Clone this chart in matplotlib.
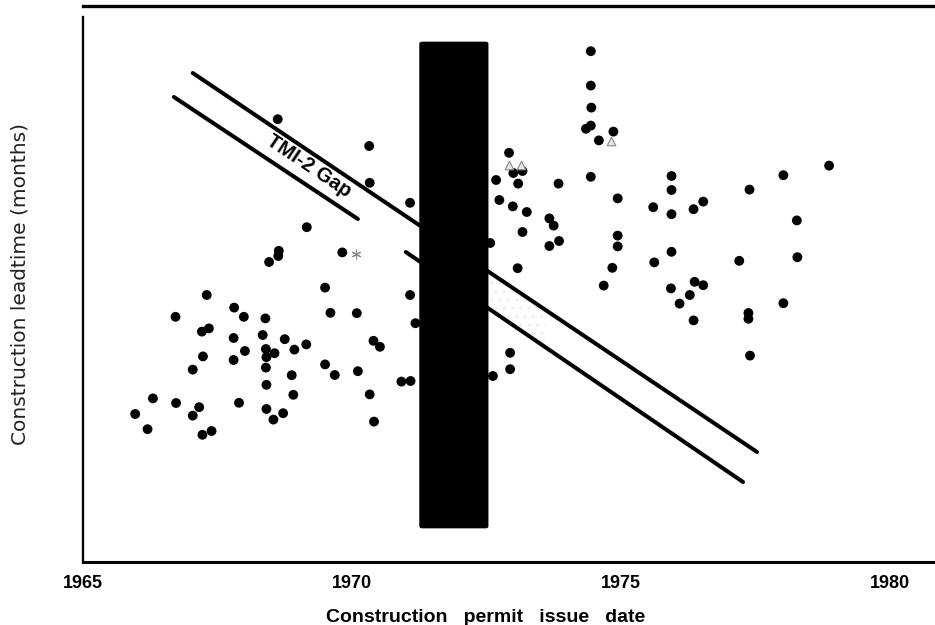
import matplotlib
matplotlib.use("Agg")
import matplotlib.pyplot as plt
from matplotlib.patches import FancyBboxPatch

# ---- data ----
permit_year = [
    1969.16, 1968.64, 1968.63, 1968.46, 1969.82, 1969.50, 1967.30, 1966.72, 1967.81, 1967.99,
    1968.39, 1969.60, 1970.09, 1967.21, 1967.34, 1967.80, 1968.34, 1968.75, 1969.15, 1970.40,
    1970.52, 1968.01, 1968.40, 1968.56, 1968.41, 1968.93, 1967.23, 1967.80, 1968.40, 1967.04,
    1969.50, 1969.68, 1970.11, 1968.88, 1968.41, 1970.92, 1971.09, 1968.91, 1970.33, 1966.30,
    1966.73, 1967.90, 1967.16, 1967.04, 1965.97, 1968.41, 1968.72, 1968.54, 1970.41, 1966.20,
    1967.22, 1967.39, 1968.62, 1970.32, 1970.33, 1971.08, 1971.08, 1971.18,
    1974.44, 1974.44, 1974.45, 1974.35, 1974.44, 1974.86, 1974.59, 1972.92, 1973.00, 1973.17,
    1974.44, 1972.68, 1973.09, 1973.84, 1975.94, 1975.94, 1974.94, 1972.74, 1972.99, 1973.25,
    1975.60, 1975.94, 1973.67, 1973.75, 1973.17, 1973.85, 1973.67, 1972.57, 1974.94, 1974.94,
    1975.94, 1975.62, 1973.08, 1974.84, 1974.68, 1975.93, 1976.09, 1977.39, 1978.02, 1978.87,
    1976.35, 1976.53, 1978.27, 1977.20, 1978.28, 1976.37, 1976.53, 1976.28, 1976.35, 1977.37,
    1977.37, 1978.02, 1977.40, 1972.94, 1972.94, 1972.62,
]
leadtime = [
    83.7, 77.8, 76.5, 75.0, 77.4, 68.6, 66.75, 61.3, 63.6, 61.3,
    60.9, 62.3, 62.2, 57.6, 58.4, 56.0, 56.75, 55.7, 54.4, 55.3,
    53.8, 52.75, 53.25, 52.2, 51.2, 53.1, 51.4, 50.5, 48.6, 48.1,
    49.4, 46.75, 47.7, 46.7, 44.3, 45.1, 45.25, 41.8, 41.9, 40.9,
    39.75, 39.8, 38.7, 36.6, 37.0, 38.25, 37.2, 35.6, 35.1, 33.2,
    31.8, 32.75, 110.7, 104.0, 94.8, 89.8, 66.75, 59.7,
    127.7, 119.1, 113.6, 108.3, 109.1, 107.6, 105.4, 102.3, 97.25, 97.75,
    96.3, 95.5, 94.6, 94.6, 96.5, 93.0, 90.9, 90.5, 88.9, 87.5,
    88.7, 86.95, 85.9, 84.1, 82.5, 80.25, 79.0, 79.75, 81.6, 78.9,
    77.55, 74.9, 73.45, 73.55, 69.1, 68.4, 64.6, 93.1, 96.7, 99.1,
    88.2, 90.1, 85.4, 75.3, 76.2, 70.05, 69.2, 66.75, 60.4, 62.25,
    60.8, 64.7, 51.6, 52.3, 48.2, 46.5,
]
# special (grey) symbols
tri_year = [1972.92, 1973.14, 1974.81]
tri_lead = [99.25, 99.25, 105.25]
star_year = [1970.07]
star_lead = [76.9]

# TMI-2 shaded band (black bar)
band_start, band_end = 1971.26, 1972.53
band_low, band_high = 8.5, 130.0

# gap lines
upper_x = [1967.04, 1977.53]
upper_y = [122.25, 27.5]
lower_xa = [1966.69, 1970.11]
lower_ya = [116.25, 85.75]
lower_xb = [1971.00, 1977.27]
lower_yb = [77.5, 20.0]

xticks = [1965, 1970, 1975, 1980]
xlim = (1965, 1980.82)
ylim = (0, 139)

# ---- figure ----
fig = plt.figure(figsize=(9.35, 6.25), dpi=100)
ax = fig.add_axes([83/935, 63/625, 851/935, 556/625])
ax.set_xlim(*xlim)
ax.set_ylim(*ylim)

lw = 2.9
ax.plot(upper_x, upper_y, color="black", lw=lw, solid_capstyle="round", zorder=2)
ax.plot(lower_xa, lower_ya, color="black", lw=lw, solid_capstyle="round", zorder=2)
ax.plot(lower_xb, lower_yb, color="black", lw=lw, solid_capstyle="round", zorder=2)

# very faint stipple between lines right of the bar
sx = [band_end, 1973.6]
def yline(xv, xs, ys):
    return ys[0] + (ys[1] - ys[0]) * (xv - xs[0]) / (xs[1] - xs[0])
ax.fill_between(sx, [yline(v, lower_xb, lower_yb) for v in sx],
                [yline(v, upper_x, upper_y) for v in sx],
                facecolor="none", edgecolor="#eeeeee", hatch="..", lw=0, zorder=1)

ax.scatter(permit_year, leadtime, s=50, color="black", edgecolors="none", zorder=3)
ax.scatter(tri_year, tri_lead, s=38, marker="^", facecolor="#e6e6e6",
           edgecolors="#888888", linewidths=0.8, zorder=4)
ax.scatter(star_year, star_lead, s=40, marker=(6, 2, 0), color="#888888",
           linewidths=0.8, zorder=4)

ax.add_patch(FancyBboxPatch((band_start, band_low), band_end - band_start,
                            band_high - band_low,
                            boxstyle="round,pad=0,rounding_size=0.05",
                            mutation_aspect=8,
                            facecolor="black", edgecolor="black", lw=0.5, zorder=5))

ax.text(1969.19, 98.9, "TMI-2 Gap", rotation=-33.7, rotation_mode="anchor",
        ha="center", va="center", fontsize=14.5, fontweight="bold",
        family="Liberation Sans", zorder=6)

# spines & ticks
ax.spines["right"].set_visible(False)
ax.spines["top"].set_linewidth(2.4)
ax.spines["bottom"].set_linewidth(2.2)
ax.spines["left"].set_linewidth(1.7)
ax.spines["left"].set_bounds(0, 136.2)
ax.set_yticks([])
ax.set_xticks(xticks)
ax.set_xticklabels([str(t) for t in xticks], fontsize=13, fontweight="bold",
                   family="Liberation Sans")
ax.tick_params(axis="x", length=0, pad=9)

fig.text(486/935, 1 - 617/625, "Construction   permit   issue   date",
         ha="center", va="center", fontsize=14, fontweight="bold", family="Liberation Sans")
fig.text(20/935, 1 - 284/625, "Construction leadtime (months)", rotation=90,
         ha="center", va="center", fontsize=14.5, family="DejaVu Sans", color="#222222")

fig.savefig("out.png", dpi=100)
